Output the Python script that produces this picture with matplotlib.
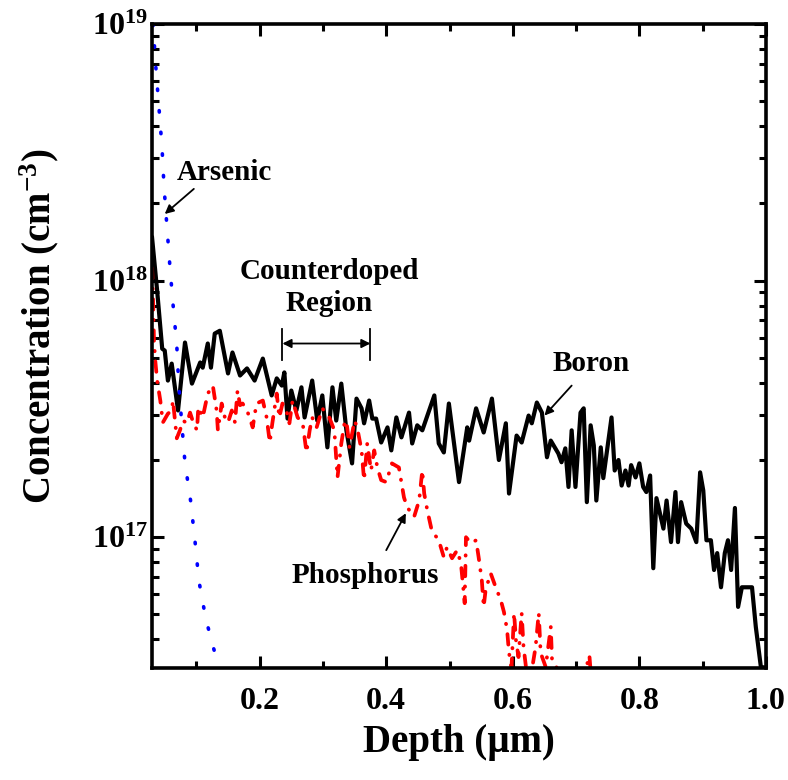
import numpy as np
import matplotlib
matplotlib.use('Agg')
import matplotlib.pyplot as plt
from matplotlib.ticker import LogLocator, NullFormatter, MultipleLocator

# depth in um, concentration in units of 1e17 cm^-3
depth_b = [0.030, 0.038, 0.046, 0.050, 0.055, 0.061, 0.071, 0.082, 0.093, 0.106,
           0.110, 0.118, 0.123, 0.129, 0.137, 0.150, 0.157, 0.169, 0.180, 0.192,
           0.205, 0.219, 0.227, 0.235, 0.239, 0.244, 0.250, 0.258, 0.266, 0.271,
           0.283, 0.291, 0.299, 0.307, 0.315, 0.321, 0.329, 0.337, 0.346, 0.353,
           0.361, 0.365, 0.373, 0.378, 0.384, 0.392, 0.402, 0.408, 0.416, 0.424,
           0.436, 0.441, 0.449, 0.457, 0.476, 0.483, 0.491, 0.499, 0.515, 0.528,
           0.531, 0.542, 0.554, 0.567, 0.578, 0.589, 0.594, 0.606, 0.614, 0.625,
           0.630, 0.638, 0.646, 0.654, 0.660, 0.672, 0.677, 0.683, 0.688, 0.693,
           0.699, 0.707, 0.712, 0.717, 0.723, 0.728, 0.732, 0.739, 0.743, 0.756,
           0.761, 0.767, 0.772, 0.778, 0.783, 0.787, 0.794, 0.800, 0.806, 0.811,
           0.817, 0.822, 0.827, 0.838, 0.843, 0.850, 0.857, 0.861, 0.866, 0.874,
           0.882, 0.890, 0.896, 0.901, 0.906, 0.913, 0.918, 0.923, 0.929, 0.935,
           0.940, 0.945, 0.951, 0.956, 0.962, 0.972, 0.978, 0.984, 0.992, 1.000]
boron = [14.7, 9.14, 5.43, 5.34, 4.08, 4.75, 3.12, 5.74, 3.97, 4.80,
         4.58, 5.69, 4.58, 6.22, 6.38, 4.35, 5.25, 4.27, 4.55, 4.08,
         4.97, 3.57, 4.16, 3.90, 4.39, 2.90, 3.73, 3.12, 3.84, 2.93,
         4.08, 2.85, 3.57, 2.24, 3.84, 2.85, 3.97, 2.61, 1.94, 3.47,
         3.18, 2.78, 3.41, 2.90, 2.90, 2.34, 2.68, 2.18, 2.93, 2.45,
         3.06, 2.32, 2.73, 2.61, 3.57, 2.32, 2.14, 3.32, 1.64, 2.68,
         2.38, 3.18, 2.56, 3.47, 2.00, 2.78, 1.48, 2.49, 2.34, 2.98,
         2.78, 3.35, 3.06, 2.05, 2.38, 2.12, 1.96, 2.22, 1.57, 2.61,
         1.57, 3.06, 3.18, 1.37, 2.73, 2.28, 1.39, 2.24, 1.70, 2.93,
         1.82, 2.00, 1.59, 1.82, 1.59, 1.91, 1.71, 1.94, 1.57, 1.50,
         1.74, 0.757, 1.42, 1.08, 1.39, 0.957, 1.50, 0.957, 1.37, 1.13,
         1.08, 0.957, 1.79, 1.52, 0.973, 0.973, 0.745, 0.867, 0.638, 0.867,
         0.973, 0.745, 1.30, 0.535, 0.638, 0.638, 0.638, 0.447, 0.312, 0.31]

depth_p = [0.030, 0.0315, 0.033, 0.035, 0.038, 0.043, 0.047, 0.055, 0.061, 0.063,
           0.069, 0.074, 0.079, 0.085, 0.090, 0.095, 0.101, 0.103, 0.110, 0.118,
           0.126, 0.132, 0.134, 0.140, 0.145, 0.150, 0.156, 0.161, 0.165, 0.169,
           0.173, 0.180, 0.184, 0.189, 0.195, 0.205, 0.211, 0.216, 0.220, 0.227,
           0.231, 0.236, 0.243, 0.247, 0.252, 0.260, 0.268, 0.274, 0.279, 0.283,
           0.290, 0.299, 0.310, 0.318, 0.323, 0.329, 0.334, 0.337, 0.342, 0.350,
           0.354, 0.361, 0.365, 0.370, 0.376, 0.381, 0.386, 0.392, 0.400, 0.409,
           0.420, 0.428, 0.433, 0.444, 0.452, 0.457, 0.460, 0.465, 0.472, 0.483,
           0.491, 0.496, 0.504, 0.512, 0.518, 0.524, 0.526, 0.534, 0.542, 0.546,
           0.551, 0.554, 0.557, 0.565, 0.573, 0.581, 0.586, 0.591, 0.594, 0.598,
           0.602, 0.605, 0.609, 0.614, 0.617, 0.620, 0.625, 0.636, 0.641, 0.644,
           0.652, 0.660, 0.662, 0.669, 0.680, 0.696, 0.721, 0.729, 0.750]
phos = [11.2, 8.59, 5.85, 4.89, 4.08, 3.41, 2.80, 3.03, 3.12, 3.41,
        2.43, 2.61, 2.85, 2.78, 3.06, 2.80, 2.61, 3.21, 2.93, 3.63,
        3.90, 3.12, 2.61, 3.32, 2.93, 2.80, 3.12, 2.80, 3.73, 3.27,
        3.32, 3.12, 2.93, 2.68, 3.32, 3.41, 2.93, 2.34, 2.78, 3.63,
        2.93, 3.32, 3.06, 2.78, 3.41, 2.93, 2.78, 2.14, 2.61, 2.93,
        2.68, 3.18, 2.93, 2.61, 1.71, 2.32, 2.78, 2.85, 2.24, 2.85,
        2.68, 2.18, 1.67, 2.32, 1.82, 2.18, 1.87, 1.67, 1.64, 1.94,
        1.87, 1.43, 1.31, 1.20, 1.39, 1.82, 1.48, 1.27, 1.06, 0.973,
        0.836, 0.914, 0.828, 0.889, 0.793, 0.553, 1.00, 0.948, 0.973, 0.836,
        0.681, 0.535, 0.622, 0.724, 0.638, 0.569, 0.511, 0.435, 0.354, 0.312,
        0.506, 0.397, 0.341, 0.506, 0.373, 0.324, 0.254, 0.373, 0.506, 0.354,
        0.312, 0.447, 0.332, 0.312, 0.232, 0.194, 0.347, 0.194, 0.15]

depth_as = [0.0315, 0.036, 0.041, 0.0457, 0.0488, 0.0535, 0.058, 0.063, 0.069, 0.072,
            0.077, 0.082, 0.091, 0.098, 0.104, 0.115, 0.128, 0.132]
arsenic = [100, 67.6, 46.8, 33.1, 23.4, 16.2, 11.5, 8.13, 5.62, 3.98,
           2.75, 1.95, 1.38, 0.955, 0.676, 0.479, 0.363, 0.309]

x_ticks = [0.2, 0.4, 0.6, 0.8, 1.0]
x_labels = ['0.2', '0.4', '0.6', '0.8', '1.0']
y_ticks = [1e17, 1e18, 1e19]
y_labels = [r'$\mathbf{10^{17}}$', r'$\mathbf{10^{18}}$', r'$\mathbf{10^{19}}$']

plt.rcParams['font.family'] = 'Liberation Serif'
plt.rcParams['font.weight'] = 'bold'
plt.rcParams['axes.labelweight'] = 'bold'
plt.rcParams['mathtext.fontset'] = 'custom'
plt.rcParams['mathtext.rm'] = 'Liberation Serif:bold'
plt.rcParams['mathtext.bf'] = 'Liberation Serif:bold'
plt.rcParams['mathtext.it'] = 'Liberation Serif:bold:italic'

fig = plt.figure(figsize=(7.88, 7.80), dpi=100)
ax = fig.add_axes([0.193, 0.144, 0.779, 0.825])

ax.plot(depth_b, np.array(boron) * 1e17, color='black', lw=3.0)
ax.plot(depth_p, np.array(phos) * 1e17, color='red', lw=2.7,
        linestyle=(0, (2.8, 2.7, 0.1, 2.7)), dash_capstyle='round')
ax.plot(depth_as, np.array(arsenic) * 1e17, color='blue', lw=2.6,
        linestyle=(0, (0.4, 5.6)), dash_capstyle='round')

ax.set_yscale('log')
ax.set_xlim(0.03, 1.0)
ax.set_ylim(3.1e16, 1e19)

ax.set_xticks(x_ticks)
ax.set_xticklabels(x_labels)
ax.xaxis.set_minor_locator(MultipleLocator(0.1))
ax.set_yticks(y_ticks)
ax.set_yticklabels(y_labels)
ax.yaxis.set_minor_locator(LogLocator(base=10, subs=np.arange(2, 10)))
ax.yaxis.set_minor_formatter(NullFormatter())

ax.tick_params(which='both', direction='in', top=True, right=True, width=2.2)
ax.tick_params(which='major', length=8.5, labelsize=23)
ax.tick_params(which='minor', length=5)
ax.tick_params(axis='x', which='major', pad=14)
ax.tick_params(axis='y', which='major', pad=3)
for s in ax.spines.values():
    s.set_linewidth(2.6)

ax.set_xlabel('Depth (\u00b5m)', fontsize=28, fontweight='bold')
ax.set_ylabel(r'Concentration (cm$^{\mathbf{-3}}$)', fontsize=28, fontweight='bold')
ax.yaxis.set_label_coords(-0.148, 0.53)
ax.xaxis.set_label_coords(0.5, -0.088)

arw = dict(arrowstyle='-|>', color='black', lw=1.3, mutation_scale=13, shrinkA=0, shrinkB=0)
ax.text(0.145, 2.63e18, 'Arsenic', fontsize=21, ha='center', va='center')
ax.annotate('', xy=(0.050, 1.82e18), xytext=(0.096, 2.28e18), arrowprops=arw)

ax.text(0.724, 4.75e17, 'Boron', fontsize=21, ha='center', va='center')
ax.annotate('', xy=(0.650, 2.98e17), xytext=(0.693, 3.90e17), arrowprops=arw)

ax.text(0.367, 7.1e16, 'Phosphorus', fontsize=21, ha='center', va='center')
ax.annotate('', xy=(0.431, 1.24e17), xytext=(0.400, 8.9e16), arrowprops=arw)

ax.text(0.310, 9.4e17, 'Counterdoped\nRegion', fontsize=21, ha='center', va='center',
        linespacing=1.25)
region = (0.236, 0.375)
ax.annotate('', xy=(region[1], 5.69e17), xytext=(region[0], 5.69e17),
            arrowprops=dict(arrowstyle='<|-|>', color='black', lw=1.3,
                            mutation_scale=13, shrinkA=0, shrinkB=0))
for xr in region:
    ax.plot([xr, xr], [4.89e17, 6.5e17], color='black', lw=1.3)

fig.savefig('out.png', dpi=100)
